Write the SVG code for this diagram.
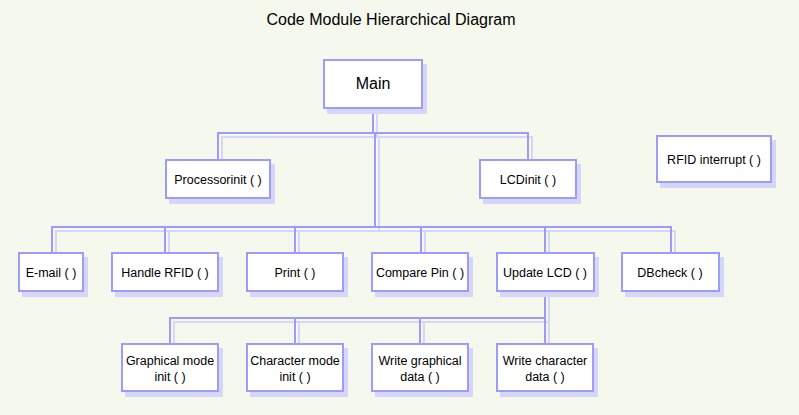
<svg xmlns="http://www.w3.org/2000/svg" width="799" height="415" viewBox="0 0 799 415">
<style>
.bg{fill:#f5f8ec}
.box{fill:#ffffff;stroke:#9c9cfc;stroke-width:2}
.sh{fill:#d6d6f8;stroke:none}
.ln{fill:none;stroke:#9c9cfc;stroke-width:2}
.lsh{fill:none;stroke:#d6d6f8;stroke-width:2}
text{font-family:"Liberation Sans",Arial,sans-serif;fill:#000;text-anchor:middle}
.t{font-size:12.5px}
.title{font-size:16px}
.main{font-size:16px}
</style>
<rect class="bg" x="0" y="0" width="799" height="415"/>
<text class="title" x="391" y="25">Code Module Hierarchical Diagram</text>
<g id="connectors">
<g transform="translate(4,4)">
<path class="lsh" d="M373 109V133M218 159V133H528V159M375 133V227M52 252V227H671V252M165 227V252M295 227V252M421 227V252M545 227V252M545 292V318M170 343V318H545V343M295 318V343M420 318V343"/>
</g>
<path class="ln" d="M373 109V133M218 159V133H528V159M375 133V227M52 252V227H671V252M165 227V252M295 227V252M421 227V252M545 227V252M545 292V318M170 343V318H545V343M295 318V343M420 318V343"/>
</g>
<g id="main"><rect class="sh" x="327" y="64" width="100" height="50"/><rect class="box" x="324" y="60" width="98" height="48"/><text class="main" x="373" y="89">Main</text></g>
<g id="processorinit"><rect class="sh" x="169" y="164" width="106" height="40"/><rect class="box" x="166" y="160" width="104" height="38"/><text class="t" x="218" y="184">Processorinit ( )</text></g>
<g id="lcdinit"><rect class="sh" x="483" y="164" width="98" height="40"/><rect class="box" x="480" y="160" width="96" height="38"/><text class="t" x="528" y="184">LCDinit ( )</text></g>
<g id="rfid-interrupt"><rect class="sh" x="660" y="140" width="116" height="48"/><rect class="box" x="657" y="136" width="114" height="46"/><text class="t" x="714" y="164">RFID interrupt ( )</text></g>
<g id="email"><rect class="sh" x="22" y="257" width="66" height="40"/><rect class="box" x="19" y="253" width="64" height="38"/><text class="t" x="51" y="277">E-mail ( )</text></g>
<g id="handle-rfid"><rect class="sh" x="115" y="257" width="108" height="40"/><rect class="box" x="112" y="253" width="106" height="38"/><text class="t" x="165" y="277">Handle RFID ( )</text></g>
<g id="print"><rect class="sh" x="250" y="257" width="98" height="40"/><rect class="box" x="247" y="253" width="96" height="38"/><text class="t" x="295" y="277">Print ( )</text></g>
<g id="compare-pin"><rect class="sh" x="375" y="257" width="98" height="40"/><rect class="box" x="372" y="253" width="96" height="38"/><text class="t" x="420" y="277">Compare Pin ( )</text></g>
<g id="update-lcd"><rect class="sh" x="500" y="257" width="99" height="40"/><rect class="box" x="497" y="253" width="97" height="38"/><text class="t" x="545" y="277">Update LCD ( )</text></g>
<g id="dbcheck"><rect class="sh" x="625" y="257" width="99" height="40"/><rect class="box" x="622" y="253" width="97" height="38"/><text class="t" x="670" y="277">DBcheck ( )</text></g>
<g id="graphical-mode-init"><rect class="sh" x="125" y="348" width="98" height="49"/><rect class="box" x="122" y="344" width="96" height="47"/><text class="t" x="170" y="365">Graphical mode</text><text class="t" x="170" y="381">init ( )</text></g>
<g id="character-mode-init"><rect class="sh" x="250" y="348" width="98" height="49"/><rect class="box" x="247" y="344" width="96" height="47"/><text class="t" x="295" y="365">Character mode</text><text class="t" x="295" y="381">init ( )</text></g>
<g id="write-graphical-data"><rect class="sh" x="375" y="348" width="98" height="49"/><rect class="box" x="372" y="344" width="96" height="47"/><text class="t" x="420" y="365">Write graphical</text><text class="t" x="420" y="381">data ( )</text></g>
<g id="write-character-data"><rect class="sh" x="500" y="348" width="98" height="49"/><rect class="box" x="497" y="344" width="96" height="47"/><text class="t" x="545" y="365">Write character</text><text class="t" x="545" y="381">data ( )</text></g>
</svg>
